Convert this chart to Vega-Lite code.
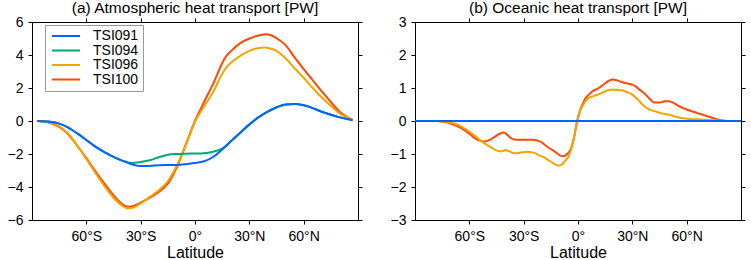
{
  "$schema": "https://vega.github.io/schema/vega-lite/v6.json",
  "padding": {"left": 6, "top": 0, "right": 5, "bottom": 0},
  "background": "white",
  "datasets": {
    "atm": [
      {"s": "TSI100", "lat": -87, "v": 0},
      {"s": "TSI100", "lat": -80, "v": -0.12},
      {"s": "TSI100", "lat": -75, "v": -0.36},
      {"s": "TSI100", "lat": -70, "v": -0.8},
      {"s": "TSI100", "lat": -65, "v": -1.5},
      {"s": "TSI100", "lat": -60, "v": -2.25},
      {"s": "TSI100", "lat": -55, "v": -3.05},
      {"s": "TSI100", "lat": -50, "v": -3.8},
      {"s": "TSI100", "lat": -45, "v": -4.5},
      {"s": "TSI100", "lat": -40, "v": -5.05},
      {"s": "TSI100", "lat": -37, "v": -5.2},
      {"s": "TSI100", "lat": -35, "v": -5.18},
      {"s": "TSI100", "lat": -30, "v": -4.95},
      {"s": "TSI100", "lat": -25, "v": -4.65},
      {"s": "TSI100", "lat": -20, "v": -4.3},
      {"s": "TSI100", "lat": -15, "v": -3.8},
      {"s": "TSI100", "lat": -10, "v": -2.8},
      {"s": "TSI100", "lat": -5, "v": -1.4},
      {"s": "TSI100", "lat": 0, "v": 0.0},
      {"s": "TSI100", "lat": 5, "v": 1.15},
      {"s": "TSI100", "lat": 10, "v": 2.25},
      {"s": "TSI100", "lat": 15, "v": 3.5},
      {"s": "TSI100", "lat": 17, "v": 3.9},
      {"s": "TSI100", "lat": 20, "v": 4.25},
      {"s": "TSI100", "lat": 25, "v": 4.72},
      {"s": "TSI100", "lat": 30, "v": 5.0},
      {"s": "TSI100", "lat": 35, "v": 5.18},
      {"s": "TSI100", "lat": 39, "v": 5.26},
      {"s": "TSI100", "lat": 42, "v": 5.2},
      {"s": "TSI100", "lat": 45, "v": 5.02},
      {"s": "TSI100", "lat": 50, "v": 4.6},
      {"s": "TSI100", "lat": 55, "v": 3.85},
      {"s": "TSI100", "lat": 60, "v": 3.15},
      {"s": "TSI100", "lat": 65, "v": 2.47},
      {"s": "TSI100", "lat": 70, "v": 1.8},
      {"s": "TSI100", "lat": 75, "v": 1.15},
      {"s": "TSI100", "lat": 80, "v": 0.55},
      {"s": "TSI100", "lat": 87, "v": 0.08},
      {"s": "TSI096", "lat": -87, "v": 0},
      {"s": "TSI096", "lat": -80, "v": -0.1},
      {"s": "TSI096", "lat": -75, "v": -0.33},
      {"s": "TSI096", "lat": -70, "v": -0.78},
      {"s": "TSI096", "lat": -65, "v": -1.5},
      {"s": "TSI096", "lat": -60, "v": -2.3},
      {"s": "TSI096", "lat": -55, "v": -3.15},
      {"s": "TSI096", "lat": -50, "v": -3.95},
      {"s": "TSI096", "lat": -45, "v": -4.65},
      {"s": "TSI096", "lat": -40, "v": -5.15},
      {"s": "TSI096", "lat": -37, "v": -5.3},
      {"s": "TSI096", "lat": -35, "v": -5.28},
      {"s": "TSI096", "lat": -30, "v": -5.0},
      {"s": "TSI096", "lat": -25, "v": -4.6},
      {"s": "TSI096", "lat": -20, "v": -4.2},
      {"s": "TSI096", "lat": -15, "v": -3.65},
      {"s": "TSI096", "lat": -10, "v": -2.7},
      {"s": "TSI096", "lat": -5, "v": -1.45},
      {"s": "TSI096", "lat": 0, "v": -0.05},
      {"s": "TSI096", "lat": 5, "v": 0.88},
      {"s": "TSI096", "lat": 10, "v": 1.75},
      {"s": "TSI096", "lat": 15, "v": 2.85},
      {"s": "TSI096", "lat": 17, "v": 3.2},
      {"s": "TSI096", "lat": 20, "v": 3.55},
      {"s": "TSI096", "lat": 25, "v": 3.95},
      {"s": "TSI096", "lat": 30, "v": 4.25},
      {"s": "TSI096", "lat": 35, "v": 4.42},
      {"s": "TSI096", "lat": 38, "v": 4.45},
      {"s": "TSI096", "lat": 42, "v": 4.38},
      {"s": "TSI096", "lat": 45, "v": 4.25},
      {"s": "TSI096", "lat": 50, "v": 3.8},
      {"s": "TSI096", "lat": 55, "v": 3.2},
      {"s": "TSI096", "lat": 60, "v": 2.62},
      {"s": "TSI096", "lat": 65, "v": 2.0},
      {"s": "TSI096", "lat": 70, "v": 1.42},
      {"s": "TSI096", "lat": 75, "v": 0.92},
      {"s": "TSI096", "lat": 80, "v": 0.45},
      {"s": "TSI096", "lat": 87, "v": 0.08},
      {"s": "TSI094", "lat": -87, "v": 0},
      {"s": "TSI094", "lat": -80, "v": -0.05},
      {"s": "TSI094", "lat": -75, "v": -0.16},
      {"s": "TSI094", "lat": -70, "v": -0.4},
      {"s": "TSI094", "lat": -65, "v": -0.75},
      {"s": "TSI094", "lat": -60, "v": -1.15},
      {"s": "TSI094", "lat": -55, "v": -1.55},
      {"s": "TSI094", "lat": -50, "v": -1.88},
      {"s": "TSI094", "lat": -45, "v": -2.17},
      {"s": "TSI094", "lat": -40, "v": -2.4},
      {"s": "TSI094", "lat": -35, "v": -2.54},
      {"s": "TSI094", "lat": -30, "v": -2.48},
      {"s": "TSI094", "lat": -25, "v": -2.38},
      {"s": "TSI094", "lat": -20, "v": -2.2},
      {"s": "TSI094", "lat": -15, "v": -2.05},
      {"s": "TSI094", "lat": -10, "v": -2.0},
      {"s": "TSI094", "lat": -5, "v": -1.98},
      {"s": "TSI094", "lat": 0, "v": -1.97},
      {"s": "TSI094", "lat": 5, "v": -1.95},
      {"s": "TSI094", "lat": 10, "v": -1.86},
      {"s": "TSI094", "lat": 15, "v": -1.68},
      {"s": "TSI094", "lat": 20, "v": -1.2},
      {"s": "TSI094", "lat": 25, "v": -0.7},
      {"s": "TSI094", "lat": 30, "v": -0.2},
      {"s": "TSI094", "lat": 35, "v": 0.23},
      {"s": "TSI094", "lat": 40, "v": 0.57},
      {"s": "TSI094", "lat": 45, "v": 0.83},
      {"s": "TSI094", "lat": 50, "v": 1.0},
      {"s": "TSI094", "lat": 55, "v": 1.03},
      {"s": "TSI094", "lat": 60, "v": 0.95},
      {"s": "TSI094", "lat": 65, "v": 0.78},
      {"s": "TSI094", "lat": 70, "v": 0.56},
      {"s": "TSI094", "lat": 75, "v": 0.38},
      {"s": "TSI094", "lat": 80, "v": 0.22},
      {"s": "TSI094", "lat": 87, "v": 0.05},
      {"s": "TSI091", "lat": -87, "v": 0},
      {"s": "TSI091", "lat": -80, "v": -0.05},
      {"s": "TSI091", "lat": -75, "v": -0.16},
      {"s": "TSI091", "lat": -70, "v": -0.4},
      {"s": "TSI091", "lat": -65, "v": -0.75},
      {"s": "TSI091", "lat": -60, "v": -1.15},
      {"s": "TSI091", "lat": -55, "v": -1.55},
      {"s": "TSI091", "lat": -50, "v": -1.88},
      {"s": "TSI091", "lat": -45, "v": -2.17},
      {"s": "TSI091", "lat": -40, "v": -2.42},
      {"s": "TSI091", "lat": -35, "v": -2.62},
      {"s": "TSI091", "lat": -30, "v": -2.73},
      {"s": "TSI091", "lat": -25, "v": -2.72},
      {"s": "TSI091", "lat": -20, "v": -2.68},
      {"s": "TSI091", "lat": -15, "v": -2.66},
      {"s": "TSI091", "lat": -10, "v": -2.66},
      {"s": "TSI091", "lat": -5, "v": -2.62},
      {"s": "TSI091", "lat": 0, "v": -2.55},
      {"s": "TSI091", "lat": 5, "v": -2.44},
      {"s": "TSI091", "lat": 10, "v": -2.18},
      {"s": "TSI091", "lat": 15, "v": -1.72},
      {"s": "TSI091", "lat": 20, "v": -1.22},
      {"s": "TSI091", "lat": 25, "v": -0.72},
      {"s": "TSI091", "lat": 30, "v": -0.22},
      {"s": "TSI091", "lat": 35, "v": 0.22},
      {"s": "TSI091", "lat": 40, "v": 0.56},
      {"s": "TSI091", "lat": 45, "v": 0.82},
      {"s": "TSI091", "lat": 50, "v": 1.0},
      {"s": "TSI091", "lat": 55, "v": 1.03},
      {"s": "TSI091", "lat": 60, "v": 0.95},
      {"s": "TSI091", "lat": 65, "v": 0.78},
      {"s": "TSI091", "lat": 70, "v": 0.56},
      {"s": "TSI091", "lat": 75, "v": 0.38},
      {"s": "TSI091", "lat": 80, "v": 0.22},
      {"s": "TSI091", "lat": 87, "v": 0.05}
    ],
    "ocn": [
      {"s": "TSI100", "lat": -78, "v": 0},
      {"s": "TSI100", "lat": -72, "v": -0.05},
      {"s": "TSI100", "lat": -67, "v": -0.15},
      {"s": "TSI100", "lat": -62, "v": -0.3},
      {"s": "TSI100", "lat": -58, "v": -0.48},
      {"s": "TSI100", "lat": -55, "v": -0.58},
      {"s": "TSI100", "lat": -52, "v": -0.62},
      {"s": "TSI100", "lat": -49, "v": -0.58},
      {"s": "TSI100", "lat": -46, "v": -0.48},
      {"s": "TSI100", "lat": -43, "v": -0.38},
      {"s": "TSI100", "lat": -41, "v": -0.35},
      {"s": "TSI100", "lat": -39, "v": -0.42},
      {"s": "TSI100", "lat": -37, "v": -0.52},
      {"s": "TSI100", "lat": -34, "v": -0.57},
      {"s": "TSI100", "lat": -30, "v": -0.57},
      {"s": "TSI100", "lat": -25, "v": -0.57},
      {"s": "TSI100", "lat": -21, "v": -0.62},
      {"s": "TSI100", "lat": -17, "v": -0.78},
      {"s": "TSI100", "lat": -13, "v": -0.92},
      {"s": "TSI100", "lat": -10, "v": -1.04},
      {"s": "TSI100", "lat": -8, "v": -1.07},
      {"s": "TSI100", "lat": -6, "v": -1.0},
      {"s": "TSI100", "lat": -4, "v": -0.85},
      {"s": "TSI100", "lat": -2, "v": -0.45},
      {"s": "TSI100", "lat": -0.5, "v": 0},
      {"s": "TSI100", "lat": 1, "v": 0.3},
      {"s": "TSI100", "lat": 2.5, "v": 0.5},
      {"s": "TSI100", "lat": 4, "v": 0.68},
      {"s": "TSI100", "lat": 6, "v": 0.8},
      {"s": "TSI100", "lat": 8, "v": 0.9},
      {"s": "TSI100", "lat": 11, "v": 0.98},
      {"s": "TSI100", "lat": 14, "v": 1.1},
      {"s": "TSI100", "lat": 17, "v": 1.22},
      {"s": "TSI100", "lat": 19, "v": 1.26},
      {"s": "TSI100", "lat": 21, "v": 1.24},
      {"s": "TSI100", "lat": 24, "v": 1.18},
      {"s": "TSI100", "lat": 27, "v": 1.14},
      {"s": "TSI100", "lat": 30, "v": 1.1},
      {"s": "TSI100", "lat": 32, "v": 1.04},
      {"s": "TSI100", "lat": 34, "v": 0.95},
      {"s": "TSI100", "lat": 37, "v": 0.82},
      {"s": "TSI100", "lat": 40, "v": 0.65},
      {"s": "TSI100", "lat": 42, "v": 0.56},
      {"s": "TSI100", "lat": 45, "v": 0.56},
      {"s": "TSI100", "lat": 48, "v": 0.6},
      {"s": "TSI100", "lat": 50, "v": 0.6},
      {"s": "TSI100", "lat": 53, "v": 0.54},
      {"s": "TSI100", "lat": 56, "v": 0.44},
      {"s": "TSI100", "lat": 59, "v": 0.37},
      {"s": "TSI100", "lat": 62, "v": 0.31},
      {"s": "TSI100", "lat": 66, "v": 0.24},
      {"s": "TSI100", "lat": 70, "v": 0.17},
      {"s": "TSI100", "lat": 74, "v": 0.1},
      {"s": "TSI100", "lat": 78, "v": 0.03},
      {"s": "TSI100", "lat": 82, "v": 0},
      {"s": "TSI096", "lat": -78, "v": 0},
      {"s": "TSI096", "lat": -72, "v": -0.03},
      {"s": "TSI096", "lat": -67, "v": -0.1},
      {"s": "TSI096", "lat": -62, "v": -0.25},
      {"s": "TSI096", "lat": -58, "v": -0.4},
      {"s": "TSI096", "lat": -54, "v": -0.58},
      {"s": "TSI096", "lat": -51, "v": -0.7},
      {"s": "TSI096", "lat": -47, "v": -0.83},
      {"s": "TSI096", "lat": -44, "v": -0.91},
      {"s": "TSI096", "lat": -42, "v": -0.92},
      {"s": "TSI096", "lat": -40, "v": -0.88},
      {"s": "TSI096", "lat": -38, "v": -0.92},
      {"s": "TSI096", "lat": -35, "v": -0.98},
      {"s": "TSI096", "lat": -32, "v": -0.96},
      {"s": "TSI096", "lat": -28, "v": -0.93},
      {"s": "TSI096", "lat": -25, "v": -0.95},
      {"s": "TSI096", "lat": -21, "v": -1.05},
      {"s": "TSI096", "lat": -17, "v": -1.16},
      {"s": "TSI096", "lat": -14, "v": -1.27},
      {"s": "TSI096", "lat": -11, "v": -1.35},
      {"s": "TSI096", "lat": -9, "v": -1.32},
      {"s": "TSI096", "lat": -7, "v": -1.2},
      {"s": "TSI096", "lat": -5, "v": -1.05},
      {"s": "TSI096", "lat": -3, "v": -0.7},
      {"s": "TSI096", "lat": -1.5, "v": -0.3},
      {"s": "TSI096", "lat": -0.3, "v": 0},
      {"s": "TSI096", "lat": 1, "v": 0.3},
      {"s": "TSI096", "lat": 2.5, "v": 0.45},
      {"s": "TSI096", "lat": 4, "v": 0.6},
      {"s": "TSI096", "lat": 6, "v": 0.7},
      {"s": "TSI096", "lat": 9, "v": 0.76},
      {"s": "TSI096", "lat": 12, "v": 0.82},
      {"s": "TSI096", "lat": 15, "v": 0.9},
      {"s": "TSI096", "lat": 18, "v": 0.95},
      {"s": "TSI096", "lat": 21, "v": 0.95},
      {"s": "TSI096", "lat": 24, "v": 0.93},
      {"s": "TSI096", "lat": 27, "v": 0.88},
      {"s": "TSI096", "lat": 30, "v": 0.8},
      {"s": "TSI096", "lat": 33, "v": 0.65},
      {"s": "TSI096", "lat": 36, "v": 0.48},
      {"s": "TSI096", "lat": 39, "v": 0.36},
      {"s": "TSI096", "lat": 42, "v": 0.3},
      {"s": "TSI096", "lat": 45, "v": 0.25},
      {"s": "TSI096", "lat": 48, "v": 0.21},
      {"s": "TSI096", "lat": 51, "v": 0.18},
      {"s": "TSI096", "lat": 54, "v": 0.13},
      {"s": "TSI096", "lat": 57, "v": 0.09},
      {"s": "TSI096", "lat": 60, "v": 0.07},
      {"s": "TSI096", "lat": 66, "v": 0.05},
      {"s": "TSI096", "lat": 72, "v": 0.03},
      {"s": "TSI096", "lat": 78, "v": 0.01},
      {"s": "TSI096", "lat": 82, "v": 0},
      {"s": "TSI094", "lat": -90, "v": 0},
      {"s": "TSI094", "lat": 90, "v": 0},
      {"s": "TSI091", "lat": -90, "v": 0},
      {"s": "TSI091", "lat": 90, "v": 0}
    ]
  },
  "config": {
    "font": "Liberation Sans",
    "view": {"stroke": "black", "strokeWidth": 1},
    "axis": {
      "domainColor": "black", "domainWidth": 1, "tickColor": "black", "tickWidth": 1, "tickSize": 4,
      "labelColor": "black", "labelFontSize": 14, "labelPadding": 5,
      "titleColor": "black", "titleFontSize": 16, "titleFontWeight": "normal", "titlePadding": 1,
      "grid": false
    },
    "title": {"fontSize": 15.5, "fontWeight": "normal", "color": "black", "offset": -1},
    "legend": {"labelFont": "Liberation Sans"}
  },
  "hconcat": [
    {
      "width": 326, "height": 198,
      "title": "(a) Atmospheric heat transport [PW]",
      "data": {"name": "atm"},
      "layer": [
        {
          "mark": {"type": "line", "interpolate": "monotone", "strokeWidth": 2},
          "encoding": {
            "x": {"field": "lat", "type": "quantitative", "scale": {"domain": [-90, 90], "nice": false},
                  "axis": {"values": [-60, -30, 0, 30, 60], "title": "Latitude",
                           "labelExpr": "datum.value < 0 ? (-datum.value) + '°S' : (datum.value > 0 ? datum.value + '°N' : '0°')"}},
            "y": {"field": "v", "type": "quantitative", "scale": {"domain": [-6, 6], "nice": false},
                  "axis": {"values": [-6, -4, -2, 0, 2, 4, 6], "title": null}},
            "color": {"field": "s", "type": "nominal",
                      "scale": {"domain": ["TSI091", "TSI094", "TSI096", "TSI100"], "range": ["#0064ff", "#00a878", "#f4a300", "#ff4800"]},
                      "legend": {"title": null, "orient": "none", "legendX": 13, "legendY": 3,
                                 "symbolType": "M-2.333,0H2.333", "symbolSize": 144, "symbolStrokeWidth": 2,
                                 "symbolOffset": 10, "labelFontSize": 14, "labelColor": "black", "labelOffset": 20,
                                 "labelExpr": "datum.label + '\u00a0\u00a0\u00a0\u00a0'",
                                 "strokeColor": "#999", "padding": 4, "rowPadding": 0.5, "fillColor": "white"}}
          }
        },
        {
          "mark": {"type": "line", "opacity": 0},
          "encoding": {
            "x": {"field": "lat", "type": "quantitative", "axis": {"orient": "top", "values": [-60, -30, 0, 30, 60], "labels": false, "title": null}},
            "y": {"field": "v", "type": "quantitative", "axis": {"orient": "right", "values": [-6, -4, -2, 0, 2, 4, 6], "labels": false, "title": null}}
          }
        }
      ],
      "resolve": {"axis": {"x": "independent", "y": "independent"}}
    },
    {
      "width": 326, "height": 198,
      "title": "(b) Oceanic heat transport [PW]",
      "data": {"name": "ocn"},
      "layer": [
        {
          "mark": {"type": "line", "interpolate": "monotone", "strokeWidth": 2},
          "encoding": {
            "x": {"field": "lat", "type": "quantitative", "scale": {"domain": [-90, 90], "nice": false},
                  "axis": {"values": [-60, -30, 0, 30, 60], "title": "Latitude",
                           "labelExpr": "datum.value < 0 ? (-datum.value) + '°S' : (datum.value > 0 ? datum.value + '°N' : '0°')"}},
            "y": {"field": "v", "type": "quantitative", "scale": {"domain": [-3, 3], "nice": false},
                  "axis": {"values": [-3, -2, -1, 0, 1, 2, 3], "title": null}},
            "color": {"field": "s", "type": "nominal",
                      "scale": {"domain": ["TSI091", "TSI094", "TSI096", "TSI100"], "range": ["#0064ff", "#00a878", "#f4a300", "#ff4800"]},
                      "legend": null}
          }
        },
        {
          "mark": {"type": "line", "opacity": 0},
          "encoding": {
            "x": {"field": "lat", "type": "quantitative", "axis": {"orient": "top", "values": [-60, -30, 0, 30, 60], "labels": false, "title": null}},
            "y": {"field": "v", "type": "quantitative", "axis": {"orient": "right", "values": [-3, -2, -1, 0, 1, 2, 3], "labels": false, "title": null}}
          }
        }
      ],
      "resolve": {"axis": {"x": "independent", "y": "independent"}}
    }
  ],
  "spacing": 57,
  "bounds": "flush",
  "resolve": {"scale": {"color": "independent"}, "legend": {"color": "independent"}}
}
